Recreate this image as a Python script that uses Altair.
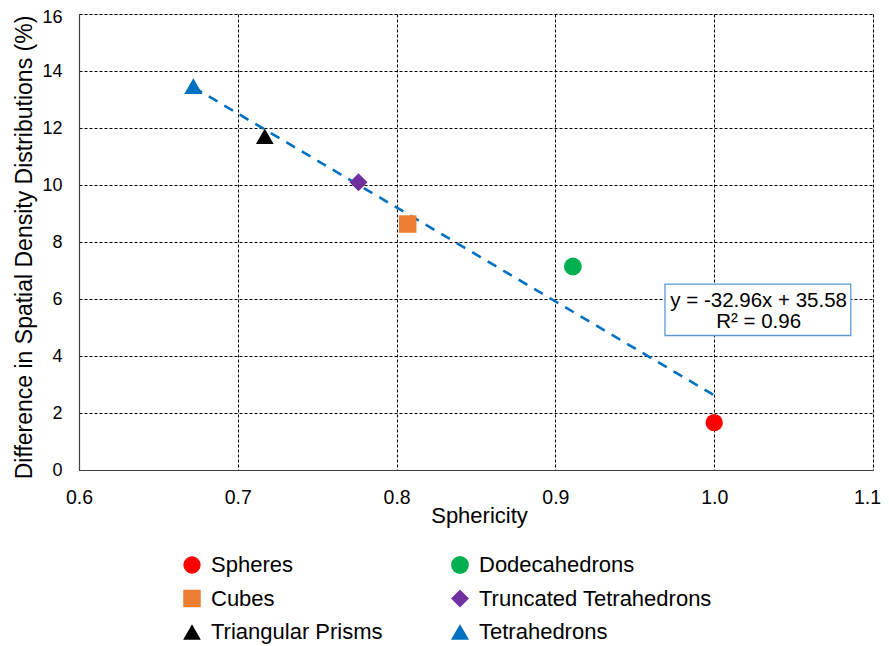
import altair as alt
import pandas as pd

# ---- data ----
shape_names = ["Spheres", "Dodecahedrons", "Cubes", "Truncated Tetrahedrons",
               "Triangular Prisms", "Tetrahedrons"]
sphericity = [1.0, 0.911, 0.807, 0.776, 0.717, 0.672]
difference = [1.66, 7.14, 8.63, 10.10, 11.71, 13.47]

colors = ["#FF0000", "#00B050", "#ED7D31", "#7030A0", "#000000", "#0070C0"]
markers = ["circle", "circle", "square", "diamond", "triangle-up", "triangle-up"]
marker_sizes = [300, 300, 330, 400, 350, 350]

# legend fills column by column: left column first, then right column
legend_order = ["Spheres", "Cubes", "Triangular Prisms",
                "Dodecahedrons", "Truncated Tetrahedrons", "Tetrahedrons"]

x_ticks = [0.6, 0.7, 0.8, 0.9, 1.0, 1.1]
y_ticks = [0, 2, 4, 6, 8, 10, 12, 14, 16]

slope = -32.96
intercept = 35.58
r_squared = 0.96
eq_lines = [f"y = {slope:.2f}x + {intercept:.2f}", f"R\u00b2 = {r_squared:.2f}"]
eq_x = [1.028, 1.028]
eq_y = [5.94, 5.18]
box_x = [0.969, 1.086]
box_y = [4.72, 6.52]

FONT = "Liberation Sans"

points = pd.DataFrame({"Shape": shape_names, "Sphericity": sphericity,
                       "Difference": difference})
trend_x = [min(sphericity), max(sphericity)]
trend = pd.DataFrame({"Sphericity": trend_x,
                      "Difference": [slope * v + intercept for v in trend_x]})
eq_df = pd.DataFrame({"x": eq_x, "y": eq_y, "t": eq_lines})
box_df = pd.DataFrame({"x": [box_x[0]], "x2": [box_x[1]],
                       "y": [box_y[0]], "y2": [box_y[1]]})

lookup = dict(zip(shape_names, zip(colors, markers, marker_sizes)))
ordered_colors = [lookup[n][0] for n in legend_order]
ordered_markers = [lookup[n][1] for n in legend_order]
ordered_sizes = [lookup[n][2] for n in legend_order]

xscale = alt.Scale(domain=[0.6, 1.1], nice=False, zero=False)
yscale = alt.Scale(domain=[0, 16], nice=False)

xaxis = alt.Axis(values=x_ticks, format=".1f", title="Sphericity",
                 grid=True, gridDash=[3, 2], gridColor="#000000", gridWidth=1,
                 ticks=False, tickSize=0, labelPadding=18, labelFontSize=19.5,
                 labelFlush=False, labelColor="#000000", labelFont=FONT,
                 labelOffset={"condition": {"test": "datum.value > 1.05", "value": -6},
                              "value": 0},
                 domainColor="#404040", domainWidth=1.2,
                 titleFontSize=22, titleFontWeight="normal", titleColor="#000000",
                 titleFont=FONT, titleBaseline="alphabetic", titleY=52.5, titleX=400)
yaxis = alt.Axis(values=y_ticks, format="d",
                 title="Difference in Spatial Density Distributions (%)",
                 grid=True, gridDash=[3, 2], gridColor="#000000", gridWidth=1,
                 ticks=False, tickSize=0, labelPadding=17, labelFontSize=18,
                 labelFlush=False, labelColor="#000000", labelFont=FONT,
                 labelOffset={"condition": {"test": "datum.value > 15", "value": 3.5},
                              "value": 0},
                 domainColor="#404040", domainWidth=1.2,
                 titleFontSize=23, titleFontWeight="normal", titleColor="#000000",
                 titleFont=FONT, titleBaseline="alphabetic", titleX=-48, titleY=233)


def X(field):
    return alt.X(field, type="quantitative", scale=xscale, axis=xaxis)


def Y(field):
    return alt.Y(field, type="quantitative", scale=yscale, axis=yaxis)


trend_line = alt.Chart(trend).mark_line(
    color="#0070C0", strokeWidth=2.6, strokeDash=[10, 8]
).encode(x=X("Sphericity"), y=Y("Difference"))

legend = alt.Legend(title=None, orient="none", legendX=102, legendY=540,
                    columns=2, columnPadding=66, rowPadding=11.5,
                    labelFontSize=22, labelFont=FONT, labelColor="#000000",
                    labelLimit=400, labelOffset=8, symbolSize=196,
                    symbolStrokeWidth=0, symbolOpacity=1, padding=0)

pts = alt.Chart(points).mark_point(filled=True, opacity=1).encode(
    x=X("Sphericity"), y=Y("Difference"),
    color=alt.Color("Shape:N", scale=alt.Scale(domain=legend_order, range=ordered_colors),
                    legend=legend),
    shape=alt.Shape("Shape:N", scale=alt.Scale(domain=legend_order, range=ordered_markers),
                    legend=legend),
    size=alt.Size("Shape:N", scale=alt.Scale(domain=legend_order, range=ordered_sizes),
                  legend=None),
)

box = alt.Chart(box_df).mark_rect(
    fill="#FFFFFF", stroke="#5B9BD5", strokeWidth=1.3
).encode(x=X("x"), x2="x2", y=Y("y"), y2="y2")

eq_text = alt.Chart(eq_df).mark_text(
    align="center", baseline="middle", fontSize=20.5, font=FONT, color="#000000"
).encode(x=X("x"), y=Y("y"), text="t:N")

chart = alt.layer(trend_line, pts, box, eq_text).properties(
    width=794, height=456, autosize="none",
    padding={"left": 71, "top": 6, "right": 8, "bottom": 176},
).configure_view(stroke=None).configure(font=FONT)

chart.save("out.html", embed_options={"renderer": "svg", "actions": False})
